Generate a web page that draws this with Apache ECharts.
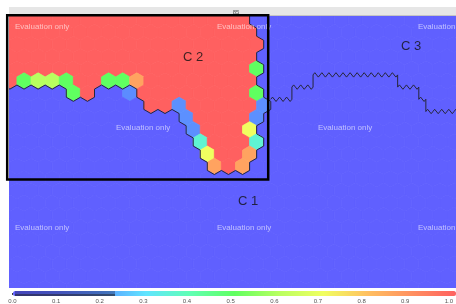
<!DOCTYPE html>
<html>
<head>
<meta charset="utf-8">
<script src="https://cdn.jsdelivr.net/npm/echarts@6/dist/echarts.min.js"></script>
<style>
html, body { margin: 0; padding: 0; background: #fff; }
#map { width: 456px; height: 304px; }
</style>
</head>
<body>
<div id="map"></div>
<script>
// hexagon SOM map, rows from top to bottom, k = node column inside a row
// odd rows sit at x = k, even rows are shifted right by half a node
const rowCount = 23
const evenCols = [-2, 30]
const oddCols = [-1, 31]

// cluster C2 (red, value 1) per row: [kFrom, kTo]
const c2Runs = [
  [[-2, 15]],
  [[-1, 16]],
  [[-2, 16]],
  [[-1, 16]],
  [[-2, 16]],
  [[-1, 16]],
  [[3, 4], [8, 16]],
  [[9, 17]],
  [[11, 16]],
  [[12, 16]],
  [[12, 16]],
  [[13, 16]],
  [[13, 15]]
]

// cluster C3 per row (everything else is C1, value 0)
const c3Runs = [
  [[16, 30]],
  [[17, 31]],
  [[17, 30]],
  [[17, 31]],
  [[17, 30]],
  [[17, 20], [27, 31]],
  [[17, 18], [28, 30]],
  [[29, 31]]
]

// nodes with their own value: [k, row, value]
const nodeValues = [
  [16, 4, 0.5],
  [0, 5, 0.5], [1, 5, 0.6], [2, 5, 0.6], [3, 5, 0.5],
  [6, 5, 0.5], [7, 5, 0.5], [8, 5, 0.86],
  [3, 6, 0.5], [7, 6, 0.16], [16, 6, 0.5],
  [11, 7, 0.17], [17, 7, 0.17],
  [11, 8, 0.17], [16, 8, 0.17],
  [12, 9, 0.17], [16, 9, 0.7],
  [12, 10, 0.36], [16, 10, 0.36],
  [13, 11, 0.7], [16, 11, 0.86],
  [13, 12, 0.86], [15, 12, 0.86]
]

const clusterNames = ['C 1', 'C 2', 'C 3']
const clusterX = [15.9, 12.0, 27.45]
const clusterY = [14.85, 3.1, 2.15]

const barTicks = ['0.0', '0.1', '0.2', '0.3', '0.4', '0.5', '0.6', '0.7', '0.8', '0.9', '1.0']

// ---- build nodes ----
const inRuns = (runs, r, k) => (runs[r] || []).some(([a, b]) => k >= a && k <= b)
const ownValue = {}
nodeValues.forEach(([k, r, v]) => { ownValue[k + ',' + r] = v })
const clusterOf = {}
const nodes = []
for (let r = 0; r < rowCount; r++) {
  const [k0, k1] = r % 2 ? oddCols : evenCols
  for (let k = k0; k <= k1; k++) {
    const key = k + ',' + r
    const cl = inRuns(c2Runs, r, k) ? 2 : inRuns(c3Runs, r, k) ? 3 : 1
    clusterOf[key] = cl
    const v = key in ownValue ? ownValue[key] : (cl === 2 ? 1 : 0)
    nodes.push([k + (r % 2 ? 0 : 0.5), r, v, k, cl])
  }
}

// neighbours in edge order: up-right, right, down-right, down-left, left, up-left
function neighbours (k, r) {
  if (r % 2) return [[k, r - 1], [k + 1, r], [k, r + 1], [k - 1, r + 1], [k - 1, r], [k - 1, r - 1]]
  return [[k + 1, r - 1], [k + 1, r], [k + 1, r + 1], [k, r + 1], [k - 1, r], [k, r - 1]]
}

// cluster borders: an edge wherever two neighbours are in different clusters
// last field: 1 when it is the C1 / C3 border (drawn finer)
const borders = []
nodes.forEach(([x, r, v, k, cl]) => {
  neighbours(k, r).forEach(([nk, nr], d) => {
    const other = clusterOf[nk + ',' + nr]
    if (other && other !== cl && cl < other) borders.push([x, r, d, cl === 1 && other === 3 ? 1 : 0])
  })
})

function hexPoints (c, w) {
  const a = w / 2
  const R = w / Math.sqrt(3)
  return [
    [c[0], c[1] - R], [c[0] + a, c[1] - R / 2], [c[0] + a, c[1] + R / 2],
    [c[0], c[1] + R], [c[0] - a, c[1] + R / 2], [c[0] - a, c[1] - R / 2]
  ]
}

function renderNode (params, api) {
  const c = api.coord([api.value(0), api.value(1)])
  const w = api.size([1, 1])[0]
  const color = api.visual('color')
  return {
    type: 'polygon',
    shape: { points: hexPoints(c, w) },
    style: { fill: color, stroke: color, lineWidth: 0.8 }
  }
}

const borderStyle = { stroke: '#26263a', lineWidth: 1, fill: null }

function renderBorder (params, api) {
  const c = api.coord([api.value(0), api.value(1)])
  const w = api.size([1, 1])[0]
  const R = w / Math.sqrt(3)
  const pts = hexPoints(c, w)
  const d = api.value(2)
  const p = pts[d]
  const q = pts[(d + 1) % 6]
  if (!api.value(3)) {
    return { type: 'line', shape: { x1: p[0], y1: p[1], x2: q[0], y2: q[1] }, style: borderStyle }
  }
  // C1 / C3 border: finer saw along the mid level of the edge
  if (d === 1 || d === 4) {
    return { type: 'line', shape: { x1: p[0], y1: c[1] - 0.75 * R, x2: q[0], y2: c[1] + 0.75 * R }, style: borderStyle }
  }
  const xa = Math.min(p[0], q[0])
  const xb = Math.max(p[0], q[0])
  const ym = (p[1] + q[1]) / 2
  const s = xb - xa
  const A = 2.2
  return {
    type: 'polyline',
    shape: { points: [[xa, ym], [xa + s / 4, ym - A], [xa + 3 * s / 4, ym + A], [xb, ym]] },
    style: borderStyle
  }
}

const chart = echarts.init(document.getElementById('map'))

const watermarks = [[15, 26.5], [217, 26.5], [418, 26.5], [116, 127.5], [318, 127.5], [15, 227.5], [217, 227.5], [418, 227.5]]

const option = {
  backgroundColor: '#ffffff',
  animation: false,
  grid: [
    { left: 9, top: 16, right: 0, bottom: 16 },
    { left: 12.5, top: 291, width: 440.5, height: 5 }
  ],
  xAxis: [
    { type: 'value', min: -1.064, max: 30.638, show: false },
    {
      type: 'value', gridIndex: 1, min: 0, max: 1, interval: 0.1,
      axisLine: { show: false },
      splitLine: { show: false },
      axisTick: { show: true, inside: true, length: 2, lineStyle: { color: '#444' } },
      axisLabel: {
        fontSize: 6, color: '#555', margin: 3,
        formatter: v => barTicks[Math.round(v * 10)]
      }
    }
  ],
  yAxis: [
    { type: 'value', inverse: true, min: -0.328, max: 21.967, show: false },
    { type: 'value', gridIndex: 1, show: false }
  ],
  visualMap: {
    type: 'continuous',
    seriesIndex: 0,
    dimension: 2,
    min: 0,
    max: 1,
    orient: 'horizontal',
    left: 13,
    top: 291,
    padding: 0,
    itemWidth: 5,
    itemHeight: 443,
    calculable: false,
    text: null,
    inRange: {
      color: ['#6060ff', '#5f74ff', '#5a9cff', '#60e4ff', '#60ffb4', '#60ff60', '#b8ff60', '#f0ff60', '#ffc060', '#ff9060', '#ff6060']
    }
  },
  graphic: [
    { type: 'rect', shape: { x: 9, y: 7, width: 447, height: 8 }, style: { fill: '#e6e6e6' }, z: 1 },
    { type: 'rect', shape: { x: 9, y: 15, width: 447, height: 1 }, style: { fill: '#c4c4c4' }, z: 1 },
    { type: 'text', x: 236, y: 12, style: { text: '85', fontSize: 6, fill: '#555', align: 'center', verticalAlign: 'middle' }, z: 1 },
    ...watermarks.map(([x, y]) => ({
      type: 'text', x, y, z: 50,
      style: { text: 'Evaluation only', fontSize: 8, fontFamily: 'Liberation Sans, Arial, sans-serif', fill: 'rgba(255,255,255,0.6)', align: 'left', verticalAlign: 'middle' }
    })),
    { type: 'rect', shape: { x: 7.2, y: 15.2, width: 261, height: 164.3 }, style: { fill: null, stroke: '#000', lineWidth: 2.5 }, z: 60 },
    { type: 'rect', shape: { x: 15, y: 291, width: 100, height: 5 }, style: { fill: 'rgba(20,20,60,0.35)' }, z: 60 },
    { type: 'rect', shape: { x: 15, y: 294.5, width: 100, height: 1 }, style: { fill: '#222' }, z: 60 }
  ],
  series: [
    {
      type: 'custom',
      name: 'nodes',
      coordinateSystem: 'cartesian2d',
      clip: true,
      silent: true,
      encode: { x: 0, y: 1 },
      data: nodes,
      renderItem: renderNode
    },
    {
      type: 'custom',
      name: 'borders',
      coordinateSystem: 'cartesian2d',
      clip: true,
      silent: true,
      encode: { x: 0, y: 1 },
      data: borders,
      renderItem: renderBorder
    },
    {
      type: 'scatter',
      name: 'clusters',
      symbolSize: 0,
      silent: true,
      data: clusterNames.map((n, i) => ({ name: n, value: [clusterX[i], clusterY[i]] })),
      label: {
        show: true,
        position: 'inside',
        formatter: '{b}',
        fontSize: 13,
        fontFamily: 'Liberation Sans, Arial, sans-serif',
        color: '#111'
      }
    }
  ]
}

chart.setOption(option)
</script>
</body>
</html>
